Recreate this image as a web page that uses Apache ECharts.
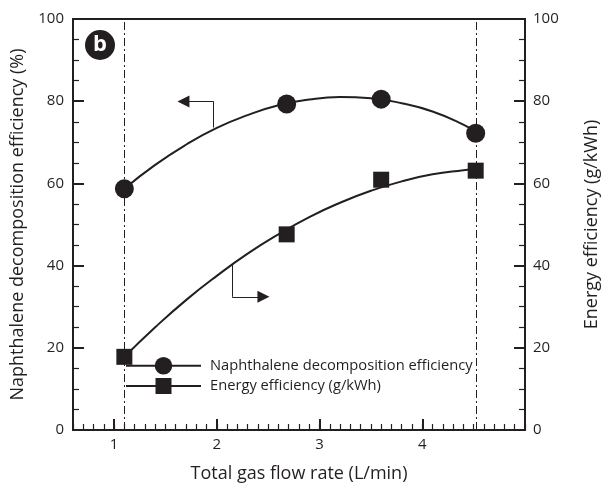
<!DOCTYPE html>
<html>
<head>
<meta charset="utf-8">
<script src="https://cdn.jsdelivr.net/npm/echarts@6/dist/echarts.min.js"></script>
<style>html,body{margin:0;padding:0;background:#fff}#c{width:602px;height:486px}</style>
</head>
<body>
<div id="c"></div>
<script>
// ---- data ----
const xTickValues = [1, 2, 3, 4];
const flowRate = [1.1, 2.68, 3.6, 4.52];
const naphEff = [58.7, 79.3, 80.5, 72.2];
const energyEff = [17.8, 47.6, 60.9, 63.1];
const curveX = [1.1, 1.4, 1.7, 2.0, 2.3, 2.6, 2.9, 3.2, 3.5, 3.8, 4.1, 4.4, 4.52];
const naphCurve = [58.7, 64.5, 69.4, 73.5, 76.6, 79.0, 80.4, 81.0, 80.7, 79.5, 77.5, 74.3, 72.5];
const energyCurve = [17.8, 25.0, 31.6, 37.5, 42.9, 47.6, 51.8, 55.3, 58.2, 60.5, 62.2, 63.2, 63.5];
const guideX = [1.1, 4.53];
const arrowStems = [[[1.97, 73.6], [1.97, 79.9]], [[2.15, 40.3], [2.15, 32.4]]];
const arrowHeads = [[[1.97, 79.9], [1.675, 79.9]], [[2.15, 32.4], [2.454, 32.4]]];
const nameNaph = 'Naphthalene decomposition efficiency';
const nameEnergy = 'Energy efficiency (g/kWh)';

const ink = '#231f20';
const font = 'Open Sans';
const pair = (xs, ys) => xs.map((x, i) => [x, ys[i]]);

const chart = echarts.init(document.getElementById('c'), null, {renderer: 'canvas'});
const yCommon = {
  type: 'value', min: 0, max: 100, interval: 20,
  axisLine: {show: true, lineStyle: {color: ink, width: 2}},
  axisTick: {show: true, inside: true, length: 11, lineStyle: {color: ink, width: 2}},
  minorTick: {show: true, splitNumber: 4, length: 6, lineStyle: {color: ink, width: 1.2}},
  splitLine: {show: false},
  axisLabel: {fontFamily: font, fontSize: 15, color: ink},
  nameLocation: 'middle', nameRotate: 90,
  nameTextStyle: {fontFamily: font, fontSize: 18, color: ink}
};
chart.setOption({
  animation: false,
  grid: {left: 73, right: 77, top: 19, bottom: 56, show: true, borderColor: ink, borderWidth: 2,
    containLabel: false, outerBoundsMode: 'none'},
  xAxis: [{
    type: 'value', min: 0.6, max: 5,
    axisLine: {show: true, onZero: false, lineStyle: {color: ink, width: 2}},
    axisTick: {show: true, inside: true, length: 11, customValues: xTickValues, lineStyle: {color: ink, width: 2}},
    axisLabel: {customValues: xTickValues, fontFamily: font, fontSize: 15, color: ink, margin: 7},
    splitLine: {show: false},
    name: 'Total gas flow rate (L/min)', nameLocation: 'middle', nameGap: 35,
    nameTextStyle: {fontFamily: font, fontSize: 18, color: ink}
  }, {
    type: 'value', min: 0.6, max: 5, interval: 0.1, position: 'bottom',
    axisLine: {show: true, onZero: false, lineStyle: {color: ink, width: 2}},
    axisTick: {show: true, inside: true, length: 6, lineStyle: {color: ink, width: 1.2}},
    axisLabel: {show: false}, splitLine: {show: false}
  }],
  yAxis: [
    Object.assign({}, yCommon, {position: 'left', name: 'Naphthalene decomposition efficiency (%)', nameGap: 46,
      axisLabel: Object.assign({}, yCommon.axisLabel, {margin: 9})}),
    Object.assign({}, yCommon, {position: 'right', name: 'Energy efficiency (g/kWh)', nameGap: 58,
      axisLabel: Object.assign({}, yCommon.axisLabel, {margin: 8})})
  ],
  legend: [{
    data: [nameNaph], left: 125, top: 357, padding: 0, itemWidth: 75, itemHeight: 22,
    textStyle: {fontFamily: font, fontSize: 14.7, color: ink, padding: [0, 0, 0, 4]}, selectedMode: false
  }, {
    data: [nameEnergy], left: 125, top: 378, padding: 0, itemWidth: 75, itemHeight: 20,
    textStyle: {fontFamily: font, fontSize: 14.7, color: ink, padding: [0, 0, 0, 4]}, selectedMode: false
  }],
  series: [
    {
      name: nameNaph, type: 'line', data: pair(curveX, naphCurve), smooth: true,
      symbol: 'circle', symbolSize: 18, showSymbol: false,
      lineStyle: {color: ink, width: 2}, itemStyle: {color: ink, opacity: 1}, z: 2,
      markLine: {
        silent: true, symbol: ['none', 'none'], label: {show: false},
        lineStyle: {color: ink, width: 1, type: [8, 3, 2, 3]},
        data: guideX.map(v => ({xAxis: v}))
      }
    },
    {
      name: nameEnergy, type: 'line', yAxisIndex: 1, data: pair(curveX, energyCurve), smooth: true,
      symbol: 'rect', symbolSize: 16, showSymbol: false,
      lineStyle: {color: ink, width: 2}, itemStyle: {color: ink, opacity: 1}, z: 2
    },
    {
      name: 'naphPts', type: 'scatter', data: pair(flowRate, naphEff), symbol: 'circle', symbolSize: 19,
      itemStyle: {color: ink, opacity: 1}, z: 4
    },
    {
      name: 'energyPts', type: 'scatter', yAxisIndex: 1, data: pair(flowRate, energyEff), symbol: 'rect', symbolSize: 16,
      itemStyle: {color: ink, opacity: 1}, z: 4
    },
    {
      name: 'arrowStems', type: 'lines', coordinateSystem: 'cartesian2d',
      symbol: ['none', 'none'],
      lineStyle: {color: ink, width: 1, opacity: 1},
      data: arrowStems.map(c => ({coords: c})), z: 3
    },
    {
      name: 'arrowHeads', type: 'lines', coordinateSystem: 'cartesian2d',
      symbol: ['none', 'triangle'], symbolSize: [8, 12],
      lineStyle: {color: ink, width: 1, opacity: 1}, itemStyle: {color: ink},
      data: arrowHeads.map(c => ({coords: c})), z: 3
    }
  ],
  graphic: [{
    type: 'group', left: 85, top: 30, children: [
      {type: 'circle', shape: {cx: 15, cy: 15, r: 15}, style: {fill: ink}},
      {type: 'text', x: 15, y: 15, style: {text: 'b', fill: '#fff', font: 'bold 22px "Open Sans"', align: 'center', verticalAlign: 'middle'}}
    ]
  }]
});
</script>
</body>
</html>
